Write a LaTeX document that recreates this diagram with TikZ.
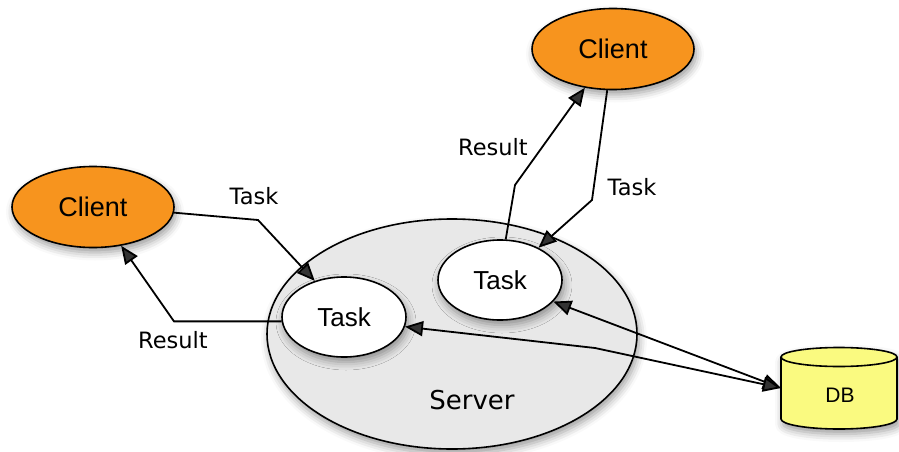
\documentclass[tikz,border=0pt]{standalone}
\usepackage{fontspec}
\setmainfont{Liberation Sans}
\newfontfamily\labelfont{DejaVu Sans}
\usetikzlibrary{shapes.geometric,arrows.meta,shadows.blur}
\definecolor{clientorange}{RGB}{247,148,30}
\definecolor{servergray}{RGB}{232,232,232}
\definecolor{dbyellow}{RGB}{250,250,128}
\tikzset{
  soft/.style={blur shadow={shadow xshift=2pt,shadow yshift=-5pt,shadow blur radius=8pt,shadow opacity=40}},
  client/.style={ellipse,draw,line width=1.6pt,fill=clientorange,minimum width=162pt,minimum height=81pt,inner sep=0pt,font=\fontsize{27}{30}\selectfont,soft},
  task/.style={ellipse,draw,line width=1.6pt,fill=white,minimum width=124pt,minimum height=80pt,inner sep=0pt,font=\fontsize{26}{30}\selectfont,soft},
  tip/.tip={Triangle[length=18pt,width=15pt]},
  link/.style={line width=1.8pt,-tip},
  twoway/.style={line width=1.8pt,tip-tip},
  lbl/.style={font=\labelfont\fontsize{22.5}{26}\selectfont},
}
\begin{document}
\begin{tikzpicture}[x=1pt,y=-1pt]
\useasboundingbox (0,0) rectangle (899,452);

% server with its two tasks
\node[ellipse,draw,line width=1.6pt,fill=servergray,minimum width=370pt,minimum height=230pt,soft] (server) at (452,334) {};
\node[font=\labelfont\fontsize{26}{30}\selectfont] (serverlabel) at (472,400) {Server};
\node[task] (task1) at (344,317) {Task};
\node[task] (task2) at (500,280) {Task};

% clients
\node[client] (client1) at (93,207) {Client};
\node[client] (client2) at (613,49) {Client};

% database cylinder
\path[fill=dbyellow,draw,line width=1.6pt,soft]
  (781,357) -- (781,419) arc[start angle=180,end angle=0,x radius=58,y radius=10]
  -- (897,357) arc[start angle=0,end angle=-180,x radius=58,y radius=9.5] -- cycle;
\draw[line width=1.6pt] (781,357) arc[start angle=180,end angle=0,x radius=58,y radius=9.5];
\node[font=\fontsize{21}{24}\selectfont] (db) at (840,395) {DB};
\coordinate (dbport) at (781,388);

% bend points
\coordinate (b1) at (258,220);
\coordinate (b2) at (174,0);
\coordinate (b3) at (515,185);
\coordinate (b4) at (592,200);
\coordinate (b5) at (595,348);

% client 1 <-> task 1
\draw[link] (client1.-4) -- (b1) -- (task1.129);
\draw[link] (task1.184) -- (task1.184 -| b2) -- (client1.-54);
\node[lbl] (l1) at (254,196) {Task};
\node[lbl] (l2) at (173,340) {Result};

% client 2 <-> task 2
\draw[link] (task2.82) -- (b3) -- (client2.234);
\draw[link] (client2.262) -- (b4) -- (task2.40);
\node[lbl] (l3) at (493,147) {Result};
\node[lbl] (l4) at (632,187) {Task};

% tasks <-> database
\draw[twoway] (task2.-22) -- (dbport);
\draw[twoway] (task1.-9) -- (b5) -- (dbport);
\end{tikzpicture}
\end{document}
